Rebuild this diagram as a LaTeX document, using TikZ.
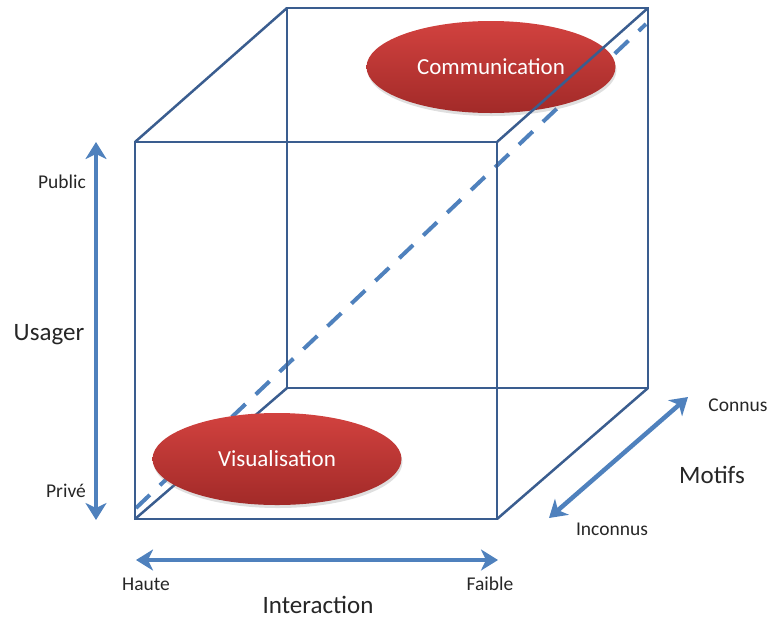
\documentclass[tikz,border=0pt]{standalone}
\usepackage{fontspec}
\setmainfont{Carlito}
\usetikzlibrary{positioning,arrows.meta,shapes.geometric,shadows}
\definecolor{cubeblue}{HTML}{3A5D8F}
\definecolor{arrblue}{HTML}{4F81BD}
\definecolor{ovaltop}{HTML}{D2423F}
\definecolor{ovalbot}{HTML}{A22A28}

\begin{document}
\begin{tikzpicture}[x=1pt, y=-1pt, >={Stealth[length=17pt,width=21pt,inset=5pt]}]
  \tikzset{
    edge/.style={draw=cubeblue,line width=2.5pt},
    diag/.style={draw=arrblue,line width=4pt,dash pattern=on 19pt off 14pt},
    axe/.style={<->,draw=arrblue,line width=4.5pt},
    oval/.style={ellipse,minimum width=249pt,minimum height=92pt,inner sep=0pt,
                 top color=ovaltop,bottom color=ovalbot,text=white,
                 font=\fontsize{23}{26}\selectfont,
                 drop shadow={opacity=0.25,shadow xshift=1pt,shadow yshift=-3pt}},
    small/.style={text=black!85,anchor=base,inner sep=0pt,font=\fontsize{19.5}{22}\selectfont},
    big/.style={text=black!85,anchor=base,inner sep=0pt,font=\fontsize{25}{29}\selectfont}
  }
  \useasboundingbox (0,0) rectangle (770,619);

  % cube corners
  \coordinate (ftl) at (135,142);
  \coordinate (ftr) at (497,142);
  \coordinate (fbr) at (497,519);
  \coordinate (fbl) at (135,519);
  \coordinate (btl) at (287,8);
  \coordinate (btr) at (648,8);
  \coordinate (bbr) at (648,388);
  \coordinate (bbl) at (287,388);

  % dashed diagonal
  \coordinate (dlow) at (136,508);
  \coordinate (dhigh) at (646,24);
  \draw[diag] (dlow) -- (dhigh);

  % top oval
  \node[oval] (comm) at (491,67) {Communication};

  % cube
  \draw[edge] (btl) -- (btr) -- (bbr) -- (bbl) -- cycle;
  \draw[edge] (ftl) -- (ftr) -- (fbr) -- (fbl) -- cycle;
  \draw[edge] (ftl) -- (btl);
  \draw[edge] (ftr) -- (btr);
  \draw[edge] (fbr) -- (bbr);
  \draw[edge] (fbl) -- (bbl);

  % bottom oval
  \node[oval] (visu) at (277,459) {Visualisation};

  % Usager axis
  \coordinate (utop) at (96,142);
  \coordinate (ubot) at (96,520);
  \draw[axe] (utop) -- (ubot);
  \node[small] (public) at (62,188) {Public};
  \node[small] (prive) at (66,497) {Privé};
  \node[big] (usager) at (49,340) {Usager};

  % Interaction axis
  \coordinate (ileft) at (136,560);
  \coordinate (iright) at (498,560);
  \draw[axe] (ileft) -- (iright);
  \node[small] (haute) at (146,590) {Haute};
  \node[small] (faible) at (490,590) {Faible};
  \node[big] (interaction) at (318,613) {Interaction};

  % Motifs axis
  \coordinate (mlow) at (549,518);
  \coordinate (mhigh) at (688,397);
  \draw[axe] (mlow) -- (mhigh);
  \node[small] (connus) at (738,411) {Connus};
  \node[big] (motifs) at (712,483) {Motifs};
  \node[small] (inconnus) at (612,535) {Inconnus};
\end{tikzpicture}
\end{document}
